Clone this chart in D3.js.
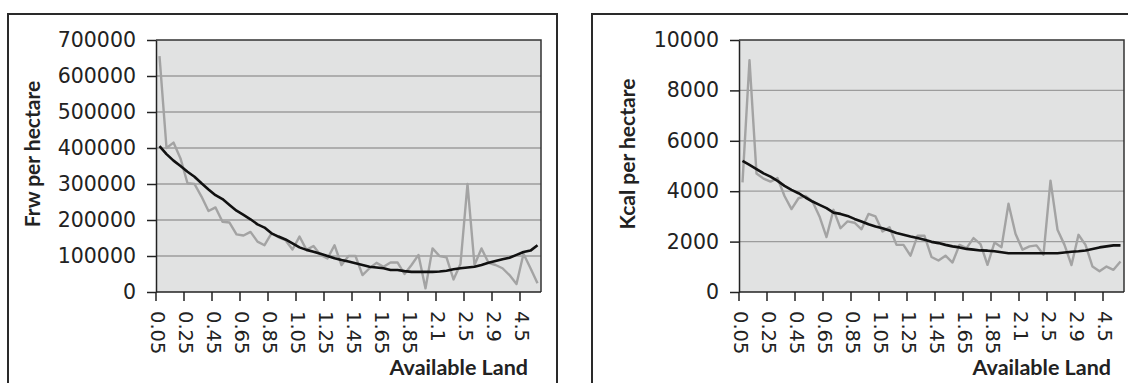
<!DOCTYPE html>
<html>
<head>
<meta charset="utf-8">
<script src="https://cdn.jsdelivr.net/npm/d3@7"></script>
<style>
  body { margin: 0; background: #fff; }
</style>
</head>
<body>
<div id="chart"></div>
<script>
// available land categories (x axis)
const categories = ["0.05","0.1","0.15","0.2","0.25","0.3","0.35","0.4","0.45","0.5",
  "0.55","0.6","0.65","0.7","0.75","0.8","0.85","0.9","0.95","1",
  "1.05","1.1","1.15","1.2","1.25","1.3","1.35","1.4","1.45","1.5",
  "1.55","1.6","1.65","1.7","1.75","1.8","1.85","1.9","1.95","2",
  "2.1","2.2","2.3","2.4","2.5","2.6","2.7","2.8","2.9","3",
  "3.5","4","4.5","5","5.5"];
const tickLabels = ["0.05","0.25","0.45","0.65","0.85","1.05","1.25","1.45","1.65","1.85","2.1","2.5","2.9","4.5"];

// Frw per hectare: observed values and trend
const frwValues = [655000,400000,415000,371000,302000,300000,265000,225000,235000,195000,
  193000,160000,157000,167000,140000,130000,163000,152000,144000,118000,
  154000,117000,128000,103000,93000,130000,75000,100000,100000,47000,
  66000,81000,70000,82000,82000,50000,75000,103000,10000,121000,
  100000,96000,35000,78000,300000,75000,121000,81000,75000,66000,
  47000,22000,106000,66000,24000];
const frwTrend = [405000,383000,365000,350000,334000,320000,302000,285000,269000,258000,
  242000,226000,214000,202000,188000,179000,163000,154000,146000,135000,
  124000,117000,112000,106000,100000,94000,89000,85000,80000,75000,
  70000,68000,66000,61000,61000,58000,56000,56000,56000,56000,
  57000,59000,63000,66000,68000,70000,75000,81000,86000,91000,
  95000,103000,111000,115000,130000];
const frwTicks = [0,100000,200000,300000,400000,500000,600000,700000];

// Kcal per hectare: observed values and trend
const kcalValues = [4350,9200,4700,4500,4380,4520,3810,3290,3720,3810,
  3590,3000,2180,3260,2530,2800,2750,2490,3100,3000,
  2400,2570,1870,1870,1440,2230,2230,1390,1250,1440,
  1170,1870,1740,2140,1900,1080,1960,1780,3500,2310,
  1680,1810,1850,1480,4420,2470,1870,1070,2270,1870,
  1010,820,1010,880,1210];
const kcalTrend = [5200,5040,4880,4710,4580,4410,4210,4050,3920,3750,
  3590,3460,3330,3150,3100,3020,2900,2800,2690,2600,
  2530,2440,2340,2270,2200,2140,2070,1990,1940,1870,
  1810,1770,1710,1680,1650,1640,1620,1580,1540,1540,
  1540,1540,1540,1540,1540,1540,1570,1600,1620,1650,
  1710,1770,1810,1850,1850];
const kcalTicks = [0,2000,4000,6000,8000,10000];

const W = 1128, H = 383;
const plotTop = 40, plotBottom = 292;

const svg = d3.select("#chart")
  .append("svg")
    .attr("width", W)
    .attr("height", H);

function drawPanel(p) {
  const g = svg.append("g");

  // panel frame (runs off the bottom of the picture)
  g.append("rect")
    .attr("x", p.boxLeft)
    .attr("y", 14)
    .attr("width", p.boxRight - p.boxLeft)
    .attr("height", 420)
    .attr("fill", "none")
    .attr("stroke", "#2a2a2a")
    .attr("stroke-width", 2);

  const x = d3.scaleBand()
    .domain(categories)
    .range([p.left, p.right]);

  const y = d3.scaleLinear()
    .domain([0, d3.max(p.ticks)])
    .range([plotBottom, plotTop]);

  // plot background
  g.append("rect")
    .attr("x", p.left)
    .attr("y", plotTop)
    .attr("width", p.right - p.left)
    .attr("height", plotBottom - plotTop)
    .attr("fill", "#e1e2e2");

  // gridlines
  g.selectAll(".grid")
    .data(p.ticks.slice(1, -1))
    .enter()
    .append("line")
      .attr("x1", p.left)
      .attr("x2", p.right)
      .attr("y1", d => y(d))
      .attr("y2", d => y(d))
      .attr("stroke", "#9c9c9c")
      .attr("stroke-width", 1.3);

  // top and right border of plot area
  g.append("path")
    .attr("d", `M${p.left},${plotTop}H${p.right}V${plotBottom}`)
    .attr("fill", "none")
    .attr("stroke", "#333")
    .attr("stroke-width", 1.5);

  const line = d3.line()
    .x((d, i) => x(categories[i]) + x.bandwidth() / 2)
    .y(d => y(d));

  g.append("path")
    .datum(p.values)
    .attr("d", line)
    .attr("fill", "none")
    .attr("stroke", "#a3a3a3")
    .attr("stroke-width", 2.4)
    .attr("stroke-linejoin", "round");

  g.append("path")
    .datum(p.trend)
    .attr("d", line)
    .attr("fill", "none")
    .attr("stroke", "#111")
    .attr("stroke-width", 2.6)
    .attr("stroke-linejoin", "round");

  // y axis
  const yAxis = g.append("g")
    .attr("transform", `translate(${p.left},0)`)
    .call(d3.axisLeft(y)
      .tickValues(p.ticks)
      .tickSize(9)
      .tickSizeOuter(0)
      .tickPadding(11)
      .tickFormat(d3.format("d")));
  yAxis.attr("font-family", "DejaVu Sans").attr("font-size", 20.5);
  yAxis.selectAll("line, path").attr("stroke", "#222").attr("stroke-width", 1.5);
  yAxis.selectAll("text").attr("fill", "#222");

  // x axis
  g.append("line")
    .attr("x1", p.left)
    .attr("x2", p.right)
    .attr("y1", plotBottom)
    .attr("y2", plotBottom)
    .attr("stroke", "#222")
    .attr("stroke-width", 1.5);

  g.selectAll(".xtick")
    .data(tickLabels)
    .enter()
    .append("line")
      .attr("x1", d => x(d))
      .attr("x2", d => x(d))
      .attr("y1", plotBottom)
      .attr("y2", plotBottom + 9)
      .attr("stroke", "#222")
      .attr("stroke-width", 1.5);

  g.selectAll(".xlabel")
    .data(tickLabels)
    .enter()
    .append("text")
      .attr("transform", d => `translate(${x(d) + 1},${plotBottom + 19})rotate(90)`)
      .attr("dominant-baseline", "central")
      .attr("font-family", "DejaVu Sans")
      .attr("font-size", 19.5)
      .attr("fill", "#222")
      .text(d => d);

  // axis titles
  g.append("text")
    .attr("x", p.right - 13)
    .attr("y", 375)
    .attr("text-anchor", "end")
    .attr("font-family", "Lato")
    .attr("font-weight", "bold")
    .attr("font-size", 21.5)
    .attr("fill", "#222")
    .text("Available Land");

  g.append("text")
    .attr("transform", `translate(${p.titleX},154)rotate(-90)`)
    .attr("text-anchor", "middle")
    .attr("font-family", "Lato")
    .attr("font-weight", "bold")
    .attr("font-size", 21)
    .attr("fill", "#222")
    .text(p.yTitle);
}

drawPanel({ boxLeft: 8, boxRight: 557, left: 156, right: 541, titleX: 40,
  ticks: frwTicks, values: frwValues, trend: frwTrend, yTitle: "Frw per hectare" });

drawPanel({ boxLeft: 592, boxRight: 1150, left: 739, right: 1124, titleX: 635,
  ticks: kcalTicks, values: kcalValues, trend: kcalTrend, yTitle: "Kcal per hectare" });
</script>
</body>
</html>
